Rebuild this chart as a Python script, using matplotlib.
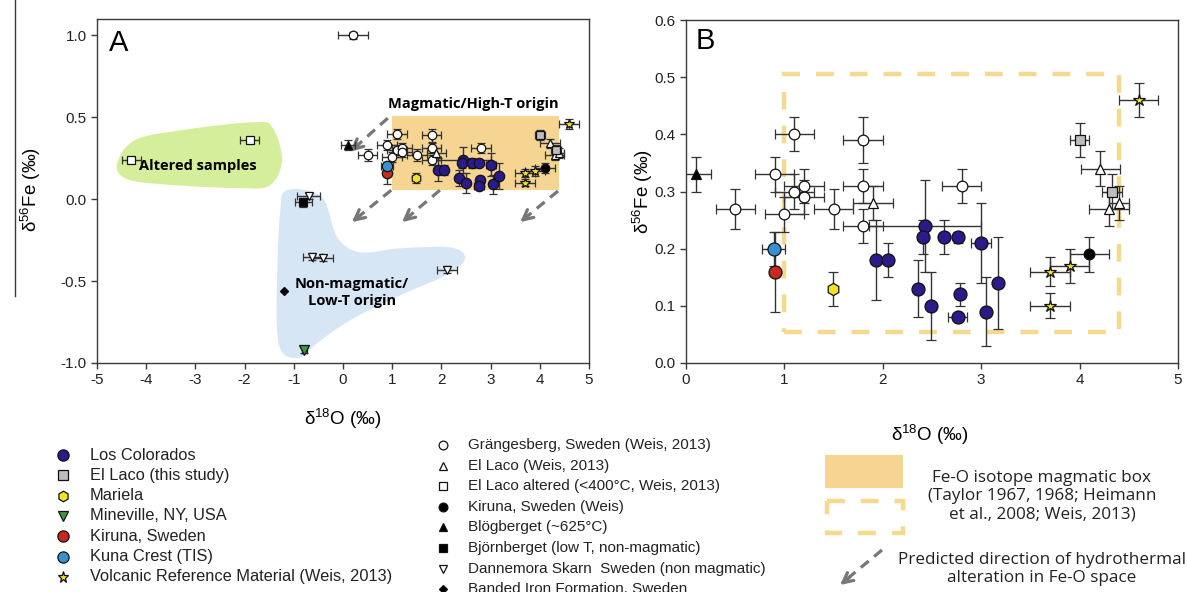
import matplotlib.pyplot as plt
import numpy as np
from matplotlib.patches import Rectangle, Polygon
from matplotlib.lines import Line2D

plt.rcParams['font.family'] = ['Liberation Sans', 'DejaVu Sans']
plt.rcParams['mathtext.fontset'] = 'custom'
plt.rcParams['mathtext.rm'] = 'Liberation Sans'
plt.rcParams['axes.unicode_minus'] = False

# ---- data (d18O, d56Fe, x error, y error) ----
lc_x = [1.93, 2.05, 2.36, 2.43, 2.41, 2.49, 2.62, 2.76, 2.78, 2.76, 3.00, 3.05, 3.17]
lc_y = [0.18, 0.18, 0.13, 0.24, 0.22, 0.10, 0.22, 0.22, 0.12, 0.08, 0.21, 0.09, 0.14]
lc_xerr = [0, 0, 0, 0.57, 0, 0, 0, 0.03, 0, 0.1, 0.1, 0, 0]
lc_yerr = [0.07, 0.03, 0.05, 0.08, 0.03, 0.06, 0.03, 0.01, 0.02, 0.0, 0.07, 0.06, 0.08]

ellaco_x = [4.00, 4.33]
ellaco_y = [0.39, 0.30]
ellaco_xerr = [0.1, 0.1]
ellaco_yerr = [0.03, 0.03]

mariela_x = [1.49]
mariela_y = [0.13]
mariela_xerr = [0]
mariela_yerr = [0.03]

mineville_x = [-0.79]
mineville_y = [-0.92]
mineville_xerr = [0.05]
mineville_yerr = [0.02]

kiruna_x = [0.90]
kiruna_y = [0.16]
kiruna_xerr = [0]
kiruna_yerr = [0.07]

kuna_x = [0.89]
kuna_y = [0.20]
kuna_xerr = [0.12]
kuna_yerr = [0.03]

volc_x = [3.70, 3.90, 3.70, 4.60]
volc_y = [0.16, 0.17, 0.10, 0.46]
volc_xerr = [0.2, 0.2, 0.2, 0.2]
volc_yerr = [0.025, 0.03, 0.022, 0.03]

grang_x = [0.5, 0.9, 1.0, 1.1, 1.1, 1.2, 1.2, 1.5, 1.8, 1.8, 1.8, 2.8, 0.2]
grang_y = [0.27, 0.33, 0.26, 0.40, 0.30, 0.31, 0.29, 0.27, 0.39, 0.31, 0.24, 0.31, 1.00]
grang_xerr = [0.2, 0.2, 0.2, 0.2, 0.2, 0.2, 0.2, 0.2, 0.2, 0.2, 0.2, 0.2, 0.3]
grang_yerr = [0.035, 0.03, 0.03, 0.03, 0.03, 0.03, 0.03, 0.035, 0.04, 0.03, 0.03, 0.03, 0.02]

elweis_x = [1.90, 4.21, 4.30, 4.40]
elweis_y = [0.28, 0.34, 0.27, 0.28]
elweis_xerr = [0.2, 0.2, 0.2, 0.1]
elweis_yerr = [0.03, 0.03, 0.03, 0.03]

altered_x = [-4.3, -1.9]
altered_y = [0.24, 0.36]
altered_xerr = [0.2, 0.2]
altered_yerr = [0.02, 0.02]

kirweis_x = [4.10]
kirweis_y = [0.19]
kirweis_xerr = [0.2]
kirweis_yerr = [0.03]

blog_x = [0.10]
blog_y = [0.33]
blog_xerr = [0.15]
blog_yerr = [0.03]

bjorn_x = [-0.81]
bjorn_y = [-0.02]
bjorn_xerr = [0.17]
bjorn_yerr = [0.03]

danne_x = [-0.70, -0.62, -0.40, 2.11]
danne_y = [0.02, -0.35, -0.36, -0.43]
danne_xerr = [0.23, 0.2, 0.2, 0.2]
danne_yerr = [0.02, 0.02, 0.02, 0.02]

bif_x = [-1.19]
bif_y = [-0.56]

# magmatic Fe-O box and alteration arrows
box_x = [1.0, 4.4]
box_y = [0.055, 0.505]
arrows = [((0.91, 0.495), (0.15, 0.29)), ((0.98, 0.055), (0.18, -0.14)),
          ((1.97, 0.055), (1.2, -0.14)), ((4.37, 0.05), (3.6, -0.14))]

# outline of the shaded regions in panel A
green_blob = [(-4.59, 0.22), (-4.23, 0.36), (-3.31, 0.42), (-1.83, 0.47), (-1.44, 0.44),
              (-1.24, 0.24), (-1.48, 0.086), (-2.09, 0.067), (-3.72, 0.092), (-4.43, 0.128)]
blue_blob = [(-1.14, 0.055), (-0.43, 0.012), (-0.12, -0.232), (0.35, -0.324), (1.16, -0.30),
             (2.17, -0.294), (2.48, -0.355), (2.17, -0.453), (1.16, -0.587), (0.14, -0.74),
             (-0.53, -0.88), (-0.87, -0.966), (-1.22, -0.94), (-1.34, -0.80), (-1.34, -0.495),
             (-1.28, -0.086)]

# (name, x, y, xerr, yerr, marker, face, size)
groups = [
    ('Banded Iron Formation, Sweden', bif_x, bif_y, None, None, 'D', 'black', 5),
    ('Dannemora Skarn  Sweden (non magmatic)', danne_x, danne_y, danne_xerr, danne_yerr, 'v', 'white', 7),
    ('Björnberget (low T, non-magmatic)', bjorn_x, bjorn_y, bjorn_xerr, bjorn_yerr, 's', 'black', 6.5),
    ('El Laco altered (<400°C, Weis, 2013)', altered_x, altered_y, altered_xerr, altered_yerr, 's', 'white', 6.5),
    ('Grängesberg, Sweden (Weis, 2013)', grang_x, grang_y, grang_xerr, grang_yerr, 'o', 'white', 7),
    ('El Laco (Weis, 2013)', elweis_x, elweis_y, elweis_xerr, elweis_yerr, '^', 'white', 7),
    ('Blögberget (~625°C)', blog_x, blog_y, blog_xerr, blog_yerr, '^', 'black', 7),
    ('Kiruna, Sweden (Weis)', kirweis_x, kirweis_y, kirweis_xerr, kirweis_yerr, 'o', 'black', 7),
    ('Los Colorados', lc_x, lc_y, lc_xerr, lc_yerr, 'o', '#2b1a8a', 8.5),
    ('El Laco (this study)', ellaco_x, ellaco_y, ellaco_xerr, ellaco_yerr, 's', '#bdbdbd', 7),
    ('Mariela', mariela_x, mariela_y, mariela_xerr, mariela_yerr, 'h', '#f2e424', 8),
    ('Mineville, NY, USA', mineville_x, mineville_y, mineville_xerr, mineville_yerr, 'v', '#3c9a3c', 8),
    ('Kiruna, Sweden', kiruna_x, kiruna_y, kiruna_xerr, kiruna_yerr, 'o', '#c62a1f', 8.5),
    ('Kuna Crest (TIS)', kuna_x, kuna_y, kuna_xerr, kuna_yerr, 'o', '#3a8fd1', 8.5),
    ('Volcanic Reference Material (Weis, 2013)', volc_x, volc_y, volc_xerr, volc_yerr, '*', '#f2e21f', 8.5),
]

legend_left = ['Los Colorados', 'El Laco (this study)', 'Mariela', 'Mineville, NY, USA',
               'Kiruna, Sweden', 'Kuna Crest (TIS)', 'Volcanic Reference Material (Weis, 2013)']
legend_mid = ['Grängesberg, Sweden (Weis, 2013)', 'El Laco (Weis, 2013)',
              'El Laco altered (<400°C, Weis, 2013)', 'Kiruna, Sweden (Weis)',
              'Blögberget (~625°C)', 'Björnberget (low T, non-magmatic)',
              'Dannemora Skarn  Sweden (non magmatic)', 'Banded Iron Formation, Sweden']

BOX_FILL = '#f6d592'
BOX_EDGE = '#f4d98f'
ARROW_C = '#777777'
AX_C = '#3a3a3a'


def smooth_closed(pts, n=24):
    p = np.asarray(pts, float)
    out = []
    N = len(p)
    t = np.linspace(0, 1, n, endpoint=False)[:, None]
    for i in range(N):
        p0, p1, p2, p3 = p[i - 1], p[i], p[(i + 1) % N], p[(i + 2) % N]
        out.append(0.5 * (2 * p1 + (-p0 + p2) * t + (2 * p0 - 5 * p1 + 4 * p2 - p3) * t ** 2
                          + (-p0 + 3 * p1 - 3 * p2 + p3) * t ** 3))
    return np.vstack(out)


def draw_points(ax, scale, cap):
    for name, x, y, xe, ye, mk, fc, ms in groups:
        if xe is None:
            ax.plot(x, y, ls='none', marker=mk, ms=ms * scale, mfc=fc, mec='#111', zorder=4)
            continue
        ax.errorbar(x, y, xerr=xe, yerr=ye, fmt=mk, ms=ms * scale, mfc=fc, mec='#111', mew=0.9,
                    ecolor='#333333', elinewidth=1.0, capsize=cap, capthick=1.0, zorder=4)


def style_axes(ax):
    for s in ax.spines.values():
        s.set_color(AX_C)
        s.set_linewidth(1.0)
    ax.tick_params(direction='out', length=4, width=1, color=AX_C, labelsize=11,
                   top=False, right=False, labelcolor='#222222')


fig = plt.figure(figsize=(11.88, 5.92), dpi=100)
axA = fig.add_axes([97 / 1188, 1 - 363 / 592, 492 / 1188, 344 / 592])
axB = fig.add_axes([686 / 1188, 1 - 363 / 592, 492 / 1188, 343 / 592])

# ---------------- panel A ----------------
axA.add_patch(Polygon(smooth_closed(green_blob), closed=True, fc='#d5ee9b', ec='none', zorder=0.5))
axA.add_patch(Polygon(smooth_closed(blue_blob), closed=True, fc='#d7e6f5', ec='none', zorder=0.5))
axA.add_patch(Rectangle((box_x[0], box_y[0]), box_x[1] - box_x[0], box_y[1] - box_y[0],
                        fc=BOX_FILL, ec='none', zorder=0.6))
for (x0, y0), (x1, y1) in arrows:
    axA.plot([x0, x1 + 0.12 * (x0 - x1)], [y0, y1 + 0.12 * (y0 - y1)], color=ARROW_C, lw=2.3,
             ls=(0, (3.2, 2.2)), solid_capstyle='butt', zorder=1)
    axA.annotate('', xy=(x1, y1), xytext=(x1 + 0.2 * (x0 - x1), y1 + 0.2 * (y0 - y1)),
                 arrowprops=dict(arrowstyle='->', color=ARROW_C, lw=2.3, mutation_scale=18,
                                 shrinkA=0, shrinkB=0), zorder=1)
draw_points(axA, 0.88, 2.8)
axA.text(2.64, 0.58, 'Magmatic/High-T origin', family='Open Sans', weight='bold', fontsize=10.5,
         ha='center', va='center', zorder=5)
axA.text(-2.95, 0.20, 'Altered samples', family='Open Sans', weight='bold', fontsize=10.5,
         ha='center', va='center', zorder=5)
axA.text(0.18, -0.57, 'Non-magmatic/\nLow-T origin', family='Open Sans', weight='bold',
         fontsize=10.5, ha='center', va='center', linespacing=1.25, zorder=5)
axA.set_xlim(-5, 5)
axA.set_ylim(-1.0, 1.1)
axA.set_xticks(np.arange(-5, 6, 1))
axA.set_yticks([-1.0, -0.5, 0.0, 0.5, 1.0])
axA.set_yticklabels(['-1.0', '-0.5', '0.0', '0.5', '1.0'])
style_axes(axA)
axA.set_xlabel('δ$^{\\mathregular{18}}$O (‰)', fontsize=13.5)
axA.set_ylabel('δ$^{\\mathregular{56}}$Fe (‰)', fontsize=13.5)
axA.xaxis.set_label_coords(0.5, -0.125)
axA.yaxis.set_label_coords(-0.11, 0.503)
axA.text(0.025, 0.93, 'A', transform=axA.transAxes, fontsize=21, va='center', ha='left')

# ---------------- panel B ----------------
axB.add_patch(Rectangle((box_x[0], box_y[0]), box_x[1] - box_x[0], box_y[1] - box_y[0],
                        fc='none', ec=BOX_EDGE, lw=3.2, ls=(0, (4, 3.6)), zorder=1))
draw_points(axB, 1.1, 3.6)
axB.set_xlim(0, 5)
axB.set_ylim(0, 0.6)
axB.set_xticks(np.arange(0, 6, 1))
axB.set_yticks(np.arange(0, 0.61, 0.1))
axB.set_yticklabels(['%.1f' % v for v in np.arange(0, 0.61, 0.1)])
style_axes(axB)
axB.set_xlabel('δ$^{\\mathregular{18}}$O (‰)', fontsize=13.5)
axB.set_ylabel('δ$^{\\mathregular{56}}$Fe (‰)', fontsize=13.5)
axB.xaxis.set_label_coords(0.496, -0.172)
axB.yaxis.set_label_coords(-0.064, 0.5)
axB.text(0.02, 0.94, 'B', transform=axB.transAxes, fontsize=21, va='center', ha='left')

# ---------------- legends (drawn in pixel space) ----------------
lg = fig.add_axes([0, 0, 1, 1])
lg.set_xlim(0, 1188)
lg.set_ylim(592, 0)
lg.axis('off')
lg.patch.set_alpha(0)

style = {g[0]: g for g in groups}
for i, name in enumerate(legend_left):
    _, _, _, _, _, mk, fc, ms = style[name]
    yy = 455 + 20.3 * i
    lg.plot([63], [yy], ls='none', marker=mk, ms=ms * 0.95, mfc=fc, mec='#111', mew=0.9)
    lg.text(90, yy, name, fontsize=11.8, va='center', ha='left', color='#222222')
for i, name in enumerate(legend_mid):
    _, _, _, _, _, mk, fc, ms = style[name]
    yy = 445 + 20.6 * i
    lg.plot([443], [yy], ls='none', marker=mk, ms=ms * 0.9, mfc=fc, mec='#111', mew=0.9)
    lg.text(468, yy, name, fontsize=11, va='center', ha='left', color='#222222')

lg.add_patch(Rectangle((825, 455), 78, 33, fc=BOX_FILL, ec='none'))
lg.add_patch(Rectangle((827, 501), 76, 32, fc='none', ec=BOX_EDGE, lw=3.2, ls=(0, (4, 3.6))))
lg.text(1042, 496, 'Fe-O isotope magmatic box\n(Taylor 1967, 1968; Heimann\net al., 2008; Weis, 2013)',
        family='Open Sans', fontsize=12.3, ha='center', va='center', linespacing=1.2, color='#222222')
lg.plot([882, 847], [550, 579], color=ARROW_C, lw=2.3, ls=(0, (3.2, 2.2)))
lg.annotate('', xy=(840, 585), xytext=(850, 577),
            arrowprops=dict(arrowstyle='->', color=ARROW_C, lw=2.3, mutation_scale=18,
                            shrinkA=0, shrinkB=0))
lg.text(1042, 569, 'Predicted direction of hydrothermal\nalteration in Fe-O space',
        family='Open Sans', fontsize=12.3, ha='center', va='center', linespacing=1.2, color='#222222')

# stray frame line left of the first y-axis label
fig.add_artist(Line2D([15 / 1188, 15 / 1188], [1 - 296 / 592, 1.0], color=AX_C, lw=1.0))

fig.savefig('out.png', dpi=100)
